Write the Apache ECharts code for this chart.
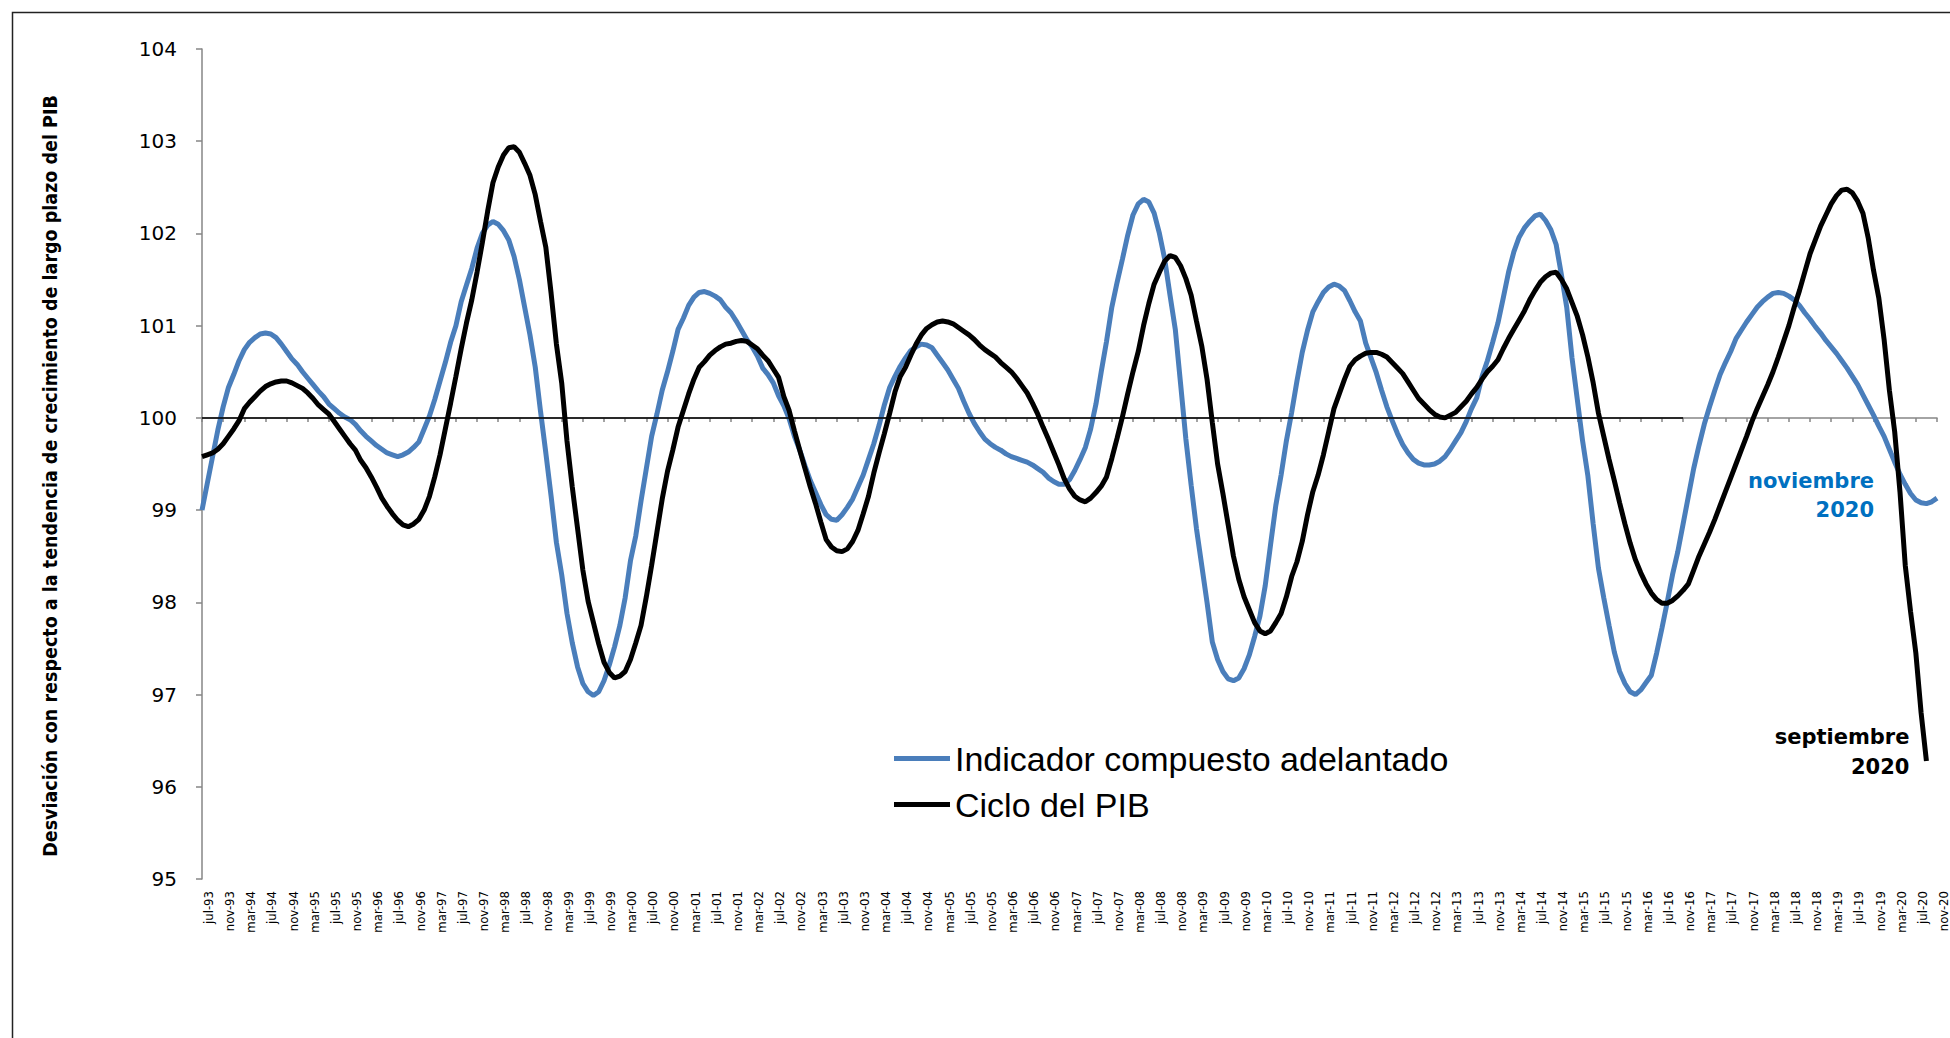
<!DOCTYPE html>
<html>
<head>
<meta charset="utf-8">
<script src="https://cdn.jsdelivr.net/npm/echarts@6/dist/echarts.min.js"></script>
<style>
html,body{margin:0;padding:0;background:#fff;}
#chart{width:1950px;height:1038px;}
</style>
</head>
<body>
<div id="chart"></div>
<script>
// ---- tick labels / categories ----
const monthNames = ['ene','feb','mar','abr','may','jun','jul','ago','sep','oct','nov','dic'];
const firstYear = 1993, firstMonth = 6, monthCount = 329; // jul-93 .. nov-20
const categories = [];
for (let k = 0; k < monthCount; k++) {
  const m = (firstMonth + k) % 12;
  const y = firstYear + Math.floor((firstMonth + k) / 12);
  categories.push(monthNames[m] + '-' + String(y % 100).padStart(2, '0'));
}
const yTicks = [95, 96, 97, 98, 99, 100, 101, 102, 103, 104];

// ---- series values ----
const indicadorName = 'Indicador compuesto adelantado';
const indicador = [
99.00,99.29,99.58,99.87,100.12,100.33,100.47,100.62,100.74,100.82,
100.87,100.91,100.92,100.91,100.87,100.80,100.72,100.64,100.58,100.50,
100.43,100.36,100.29,100.23,100.15,100.10,100.05,100.01,99.98,99.93,
99.86,99.80,99.75,99.70,99.66,99.62,99.60,99.58,99.60,99.63,
99.68,99.74,99.88,100.02,100.20,100.40,100.60,100.82,101.00,101.26,
101.44,101.62,101.84,102.00,102.09,102.13,102.10,102.03,101.93,101.75,
101.50,101.20,100.90,100.55,100.07,99.62,99.15,98.65,98.30,97.88,
97.56,97.30,97.12,97.03,96.99,97.03,97.15,97.32,97.52,97.75,
98.05,98.45,98.72,99.10,99.45,99.80,100.04,100.30,100.50,100.72,
100.96,101.08,101.22,101.31,101.36,101.37,101.35,101.32,101.28,101.20,
101.14,101.05,100.95,100.85,100.77,100.67,100.54,100.47,100.38,100.24,
100.13,99.99,99.80,99.65,99.48,99.32,99.19,99.06,98.95,98.90,
98.89,98.95,99.03,99.12,99.25,99.38,99.55,99.72,99.92,100.14,
100.33,100.45,100.56,100.65,100.73,100.77,100.80,100.79,100.76,100.68,
100.60,100.52,100.42,100.32,100.18,100.05,99.94,99.85,99.77,99.72,
99.68,99.65,99.61,99.58,99.56,99.54,99.52,99.49,99.45,99.41,
99.35,99.31,99.28,99.28,99.33,99.43,99.55,99.68,99.88,100.15,
100.50,100.83,101.20,101.47,101.72,101.98,102.20,102.32,102.37,102.34,
102.22,102.00,101.72,101.33,100.96,100.37,99.77,99.27,98.80,98.40,
98.00,97.57,97.38,97.25,97.17,97.15,97.18,97.28,97.43,97.63,
97.85,98.18,98.62,99.05,99.38,99.75,100.06,100.40,100.71,100.95,
101.15,101.26,101.36,101.42,101.45,101.43,101.38,101.27,101.15,101.05,
100.81,100.65,100.49,100.30,100.12,99.97,99.83,99.71,99.62,99.55,
99.51,99.49,99.49,99.50,99.53,99.58,99.66,99.75,99.84,99.96,
100.10,100.22,100.45,100.62,100.82,101.03,101.30,101.58,101.80,101.96,
102.06,102.13,102.19,102.21,102.14,102.04,101.88,101.55,101.20,100.65,
100.20,99.75,99.37,98.85,98.37,98.05,97.75,97.46,97.25,97.12,
97.03,97.00,97.05,97.13,97.21,97.45,97.72,98.00,98.30,98.55,
98.85,99.15,99.45,99.70,99.93,100.12,100.30,100.47,100.60,100.72,
100.86,100.95,101.04,101.12,101.20,101.26,101.31,101.35,101.36,101.35,
101.32,101.28,101.22,101.14,101.07,100.99,100.92,100.84,100.77,100.70,
100.62,100.54,100.45,100.36,100.25,100.14,100.03,99.91,99.80,99.66,
99.52,99.39,99.28,99.18,99.11,99.08,99.07,99.09,99.13
];

const cicloName = 'Ciclo del PIB';
const ciclo = [
99.58,99.60,99.62,99.66,99.72,99.80,99.88,99.97,100.10,100.17,
100.23,100.29,100.34,100.37,100.39,100.40,100.40,100.38,100.35,100.32,
100.27,100.21,100.14,100.09,100.04,99.96,99.88,99.80,99.72,99.65,
99.54,99.46,99.36,99.25,99.13,99.04,98.96,98.89,98.84,98.82,
98.85,98.90,99.00,99.15,99.36,99.60,99.88,100.16,100.45,100.75,
101.03,101.28,101.58,101.90,102.24,102.55,102.72,102.85,102.93,102.94,
102.88,102.76,102.63,102.42,102.13,101.85,101.35,100.80,100.38,99.75,
99.25,98.80,98.35,98.01,97.78,97.55,97.35,97.24,97.18,97.20,
97.25,97.38,97.56,97.75,98.06,98.40,98.76,99.12,99.42,99.65,
99.90,100.08,100.26,100.42,100.55,100.61,100.68,100.73,100.77,100.80,
100.81,100.83,100.84,100.83,100.79,100.75,100.68,100.62,100.53,100.44,
100.23,100.08,99.86,99.65,99.45,99.25,99.07,98.87,98.68,98.60,
98.56,98.55,98.58,98.66,98.78,98.96,99.15,99.40,99.62,99.83,
100.05,100.28,100.45,100.55,100.68,100.80,100.90,100.97,101.01,101.04,
101.05,101.04,101.02,100.98,100.94,100.90,100.85,100.79,100.74,100.70,
100.66,100.60,100.55,100.50,100.43,100.35,100.27,100.16,100.04,99.90,
99.77,99.63,99.49,99.34,99.23,99.15,99.11,99.09,99.13,99.19,
99.26,99.36,99.56,99.78,100.01,100.26,100.50,100.72,101.00,101.24,
101.45,101.58,101.70,101.76,101.74,101.65,101.51,101.33,101.05,100.78,
100.42,99.95,99.50,99.18,98.84,98.50,98.25,98.06,97.92,97.78,
97.69,97.66,97.69,97.78,97.88,98.06,98.28,98.44,98.66,98.95,
99.20,99.38,99.60,99.85,100.10,100.26,100.42,100.56,100.63,100.67,
100.70,100.71,100.71,100.69,100.66,100.60,100.54,100.48,100.39,100.30,
100.21,100.15,100.09,100.04,100.01,100.00,100.03,100.06,100.12,100.18,
100.26,100.33,100.42,100.50,100.56,100.63,100.75,100.86,100.96,101.06,
101.16,101.28,101.38,101.47,101.53,101.57,101.58,101.50,101.40,101.25,
101.10,100.90,100.66,100.38,100.05,99.80,99.55,99.32,99.08,98.85,
98.64,98.46,98.32,98.20,98.10,98.03,97.99,97.99,98.02,98.07,
98.13,98.20,98.35,98.50,98.63,98.76,98.90,99.05,99.20,99.35,
99.50,99.65,99.80,99.96,100.10,100.23,100.36,100.50,100.66,100.83,
101.00,101.20,101.38,101.58,101.78,101.93,102.08,102.20,102.32,102.41,
102.47,102.48,102.44,102.35,102.22,101.95,101.60,101.30,100.85,100.30,
99.85,99.20,98.40,97.90,97.45,96.80,96.28
];

// reference line at 100 drawn until nov-16
const refLevel = 100;
const refStart = 'jul-93';
const refEnd = 'nov-16';

const yTitle = 'Desviación con respecto a la tendencia de crecimiento de largo plazo del PIB';
const blueNote = 'noviembre\n2020';
const blackNote = 'septiembre\n2020';

const BLUE = '#4A7EBB';
const GREY = '#868686';

const chart = echarts.init(document.getElementById('chart'), null, {renderer: 'svg'});
chart.setOption({
  animation: false,
  backgroundColor: '#fff',
  grid: {left: 202, right: 7, top: 49, bottom: 159, containLabel: false},
  graphic: [
    {type: 'rect', left: 10, top: 10, shape: {width: 1960, height: 1060},
     style: {fill: 'none', stroke: '#222', lineWidth: 1.5}, silent: true, z: -10},
    {type: 'text', x: 50, y: 476, rotation: Math.PI / 2,
     style: {text: yTitle, fontFamily: "'Liberation Sans Narrow','DejaVu Sans Condensed','Liberation Sans',sans-serif",
             fontWeight: 'bold', fontSize: 19.5, fill: '#000', textAlign: 'center', textVerticalAlign: 'middle'}}
  ],
  legend: {
    data: [indicadorName, cicloName],
    orient: 'vertical', left: 889, top: 735,
    icon: 'rect', itemWidth: 56, itemHeight: 5, itemGap: 9,
    textStyle: {fontFamily: "'Liberation Sans',sans-serif", fontSize: 34, lineHeight: 37, color: '#000'},
    selectedMode: false
  },
  xAxis: [
    {
      type: 'category', data: categories, boundaryGap: false, position: 'bottom',
      axisLine: {show: false, onZero: false}, axisTick: {show: false},
      axisLabel: {interval: 3, rotate: 90, margin: 12, verticalAlign: 'top',
                  fontFamily: "'Liberation Sans Narrow','DejaVu Sans Condensed','Liberation Sans',sans-serif",
                  fontSize: 13, color: '#000'},
      splitLine: {show: false}
    },
    {
      type: 'category', data: categories, boundaryGap: false, position: 'bottom',
      axisLine: {show: true, onZero: true, onZeroAxisIndex: 1, lineStyle: {color: GREY, width: 1.5}},
      axisTick: {show: true, interval: 3, length: 4, lineStyle: {color: GREY, width: 1.5}},
      axisLabel: {show: false}, splitLine: {show: false}
    }
  ],
  yAxis: [
    {
      type: 'value', min: yTicks[0], max: yTicks[yTicks.length - 1], interval: 1,
      axisLine: {show: true, lineStyle: {color: GREY, width: 1.5}},
      axisTick: {show: true, length: 6, lineStyle: {color: GREY, width: 1.5}},
      axisLabel: {margin: 25, fontFamily: "'DejaVu Sans',sans-serif", fontSize: 20, color: '#000'},
      splitLine: {show: false}
    },
    {
      type: 'value', min: yTicks[0] - refLevel, max: yTicks[yTicks.length - 1] - refLevel,
      show: false
    }
  ],
  series: [
    {
      name: indicadorName, type: 'line', data: indicador, xAxisIndex: 0, yAxisIndex: 0,
      showSymbol: false, symbol: 'none', smooth: false,
      lineStyle: {color: BLUE, width: 5}, itemStyle: {color: BLUE}, z: 3,
      markPoint: {
        symbol: 'circle', symbolSize: 0, silent: true,
        data: [{coord: [categories[indicador.length - 1], indicador[indicador.length - 1]]}],
        label: {show: true, formatter: blueNote, position: [-63, -3], align: 'right', verticalAlign: 'middle',
                color: '#0070C0', fontWeight: 'bold', fontSize: 21, lineHeight: 29,
                fontFamily: "'DejaVu Sans',sans-serif"}
      }
    },
    {
      name: cicloName, type: 'line', data: ciclo, xAxisIndex: 0, yAxisIndex: 0,
      showSymbol: false, symbol: 'none', smooth: false,
      lineStyle: {color: '#000', width: 5}, itemStyle: {color: '#000'}, z: 4,
      markLine: {
        silent: true, symbol: ['none', 'none'], label: {show: false},
        lineStyle: {color: '#000', width: 1.5, type: 'solid'},
        data: [[{coord: [refStart, refLevel]}, {coord: [refEnd, refLevel]}]]
      },
      markPoint: {
        symbol: 'circle', symbolSize: 0, silent: true,
        data: [{coord: [categories[ciclo.length - 1], ciclo[ciclo.length - 1]]}],
        label: {show: true, formatter: blackNote, position: [-17, -9], align: 'right', verticalAlign: 'middle',
                color: '#000', fontWeight: 'bold', fontSize: 21, lineHeight: 30,
                fontFamily: "'DejaVu Sans',sans-serif"}
      }
    }
  ]
});
</script>
</body>
</html>
